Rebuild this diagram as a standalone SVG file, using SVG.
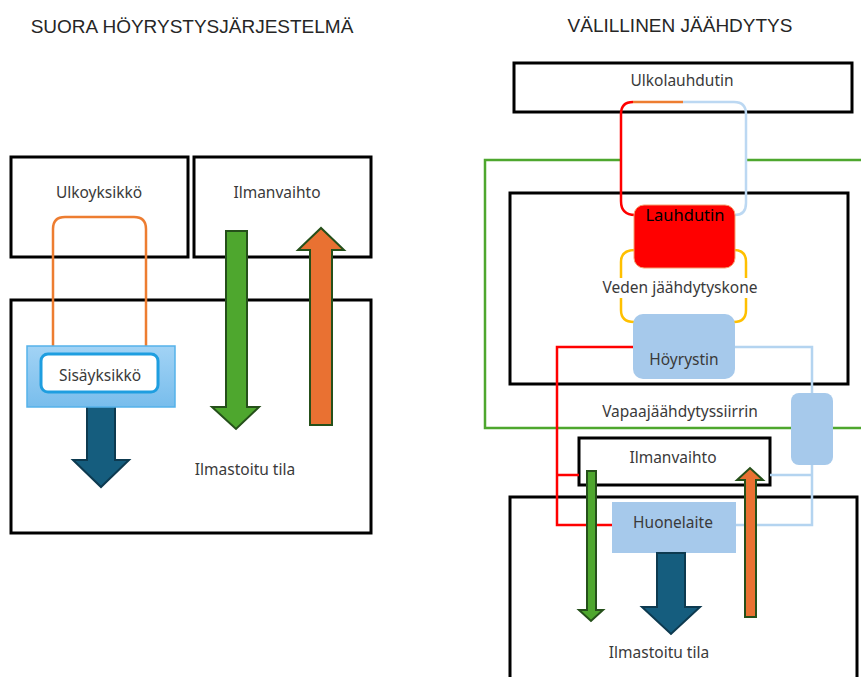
<svg xmlns="http://www.w3.org/2000/svg" width="861" height="677" viewBox="0 0 861 677">
<defs>
<linearGradient id="sisGrad" x1="0" y1="0" x2="0" y2="1">
<stop offset="0" stop-color="#a2d3f5"/>
<stop offset="1" stop-color="#78bdec"/>
</linearGradient>
<style>
.box{fill:#ffffff;stroke:#000000;stroke-width:3}
.lbl{font-family:"Noto Sans","Liberation Sans",sans-serif;font-size:15.5px;fill:#3a3a3a;text-anchor:middle}
.title{font-family:"Liberation Sans","Noto Sans",sans-serif;font-size:19px;fill:#262626;text-anchor:middle}
.pipe{fill:none;stroke-width:2.5}
.green{fill:#4ea72e;stroke:#25501a;stroke-width:2}
.orange{fill:#e97132;stroke:#25501a;stroke-width:2}
.dblue{fill:#155d7e;stroke:#0d3a50;stroke-width:2}
</style>
</defs>
<rect width="861" height="677" fill="#ffffff"/>

<text class="title" x="192" y="33">SUORA HÖYRYSTYSJÄRJESTELMÄ</text>
<text class="title" x="680" y="32">VÄLILLINEN JÄÄHDYTYS</text>

<!-- Left diagram -->
<g id="ulkoyksikko">
<rect class="box" x="11" y="157" width="177" height="100"/>
<text class="lbl" x="99" y="198">Ulkoyksikkö</text>
</g>
<g id="ilmanvaihto-left">
<rect class="box" x="194" y="157" width="177" height="100"/>
<text class="lbl" x="277" y="198">Ilmanvaihto</text>
</g>
<g id="ilmastoitu-left">
<rect class="box" x="11" y="300" width="360" height="233"/>
<text class="lbl" x="245" y="475">Ilmastoitu tila</text>
</g>

<g id="connectors-left">
<path class="pipe" stroke="#ed7d31" d="M53 347 L53 229 Q53 217 65 217 L134 217 Q146 217 146 229 L146 347"/>
<polygon class="green" points="226,231 247,231 247,407 259,407 236,429 212,407 226,407"/>
<polygon class="orange" points="310,425 332,425 332,250 344,250 321,228 298,250 310,250"/>
<polygon class="dblue" points="87,406 115,406 115,460 129,460 101,487 73,460 87,460"/>
</g>

<g id="sisayksikko">
<rect x="27" y="346" width="148" height="61" fill="url(#sisGrad)" stroke="#55b2ea" stroke-width="1.5"/>
<rect x="41" y="354" width="117" height="38" rx="7" fill="#ffffff" stroke="#1e9ee0" stroke-width="3"/>
<text class="lbl" x="100" y="381">Sisäyksikkö</text>
</g>

<!-- Right diagram -->
<g id="vapaa-loop">
<path class="pipe" stroke="#4ea72e" stroke-width="3" d="M621 160 L485 160 L485 428 L861 428"/>
<path class="pipe" stroke="#4ea72e" stroke-width="3" d="M745 160 L861 160"/>
<text class="lbl" x="680" y="417" font-size="14">Vapaajäähdytyssiirrin</text>
</g>

<g id="ulkolauhdutin">
<rect class="box" x="514" y="63" width="338" height="49"/>
<text class="lbl" x="682" y="86">Ulkolauhdutin</text>
</g>

<g id="veden-jaahdytyskone">
<rect class="box" x="510" y="193" width="338" height="191"/>
</g>

<g id="connectors-right">
<path class="pipe" stroke="#ff0000" d="M635 215 Q621 215 621 201 L621 114 Q621 102 633 102"/>
<path class="pipe" stroke="#ed7d31" d="M633 102 L683 102"/>
<path class="pipe" stroke="#bcd8f2" d="M683 102 L734 102 Q746 102 746 114 L746 203 Q746 215 735 215"/>
<path class="pipe" stroke="#ffc000" d="M635 250 Q621 250 621 262 L621 310 Q621 322 634 322"/>
<path class="pipe" stroke="#ffc000" d="M734 250 Q746 250 746 262 L746 310 Q746 322 734 322"/>
</g>

<g id="veden-label">
<rect x="597" y="278" width="168" height="20" fill="#ffffff"/>
<text class="lbl" x="680" y="293">Veden jäähdytyskone</text>
</g>

<g id="lauhdutin">
<rect x="634" y="205" width="101" height="63" rx="10" fill="#ff0000" stroke="#f4a070" stroke-width="1"/>
<text class="lbl" x="685" y="221" style="fill:#000000;font-size:16.5px">Lauhdutin</text>
</g>

<g id="hoyrystin">
<rect x="633" y="314" width="102" height="65" rx="10" fill="#a6c9eb"/>
<text class="lbl" x="684" y="365">Höyrystin</text>
</g>

<g id="ilmastoitu-right">
<rect class="box" x="510" y="497" width="347" height="200"/>
<text class="lbl" x="659" y="658">Ilmastoitu tila</text>
</g>

<g id="ilmanvaihto-right">
<rect class="box" x="579" y="438" width="191" height="47"/>
<text class="lbl" x="673" y="463">Ilmanvaihto</text>
</g>

<g id="connectors-right-2">
<path class="pipe" stroke="#ff0000" d="M633 347 L557 347 L557 525 L612 525"/>
<path class="pipe" stroke="#ff0000" d="M557 475 L579 475"/>
<path class="pipe" stroke="#b4d4f0" d="M735 347 L812 347 L812 393"/>
<path class="pipe" stroke="#b4d4f0" d="M812 465 L812 525 L736 525"/>
<path class="pipe" stroke="#b4d4f0" d="M812 475 L770 475"/>
</g>

<g id="vapaajaahdytyssiirrin">
<rect x="791" y="393" width="42" height="72" rx="8" fill="#a6c9eb"/>
</g>

<g id="huonelaite">
<rect x="612" y="502" width="124" height="51" fill="#a6c9eb"/>
<text class="lbl" x="673" y="528">Huonelaite</text>
</g>

<g id="arrows-right">
<polygon class="green" points="587,471 596,471 596,610 603,610 591,621 579,610 587,610"/>
<polygon class="orange" points="745,617 756,617 756,480 763,480 750,468 737,480 745,480"/>
<polygon class="dblue" points="657,553 685,553 685,607 700,607 671,634 642,607 657,607"/>
</g>
</svg>
